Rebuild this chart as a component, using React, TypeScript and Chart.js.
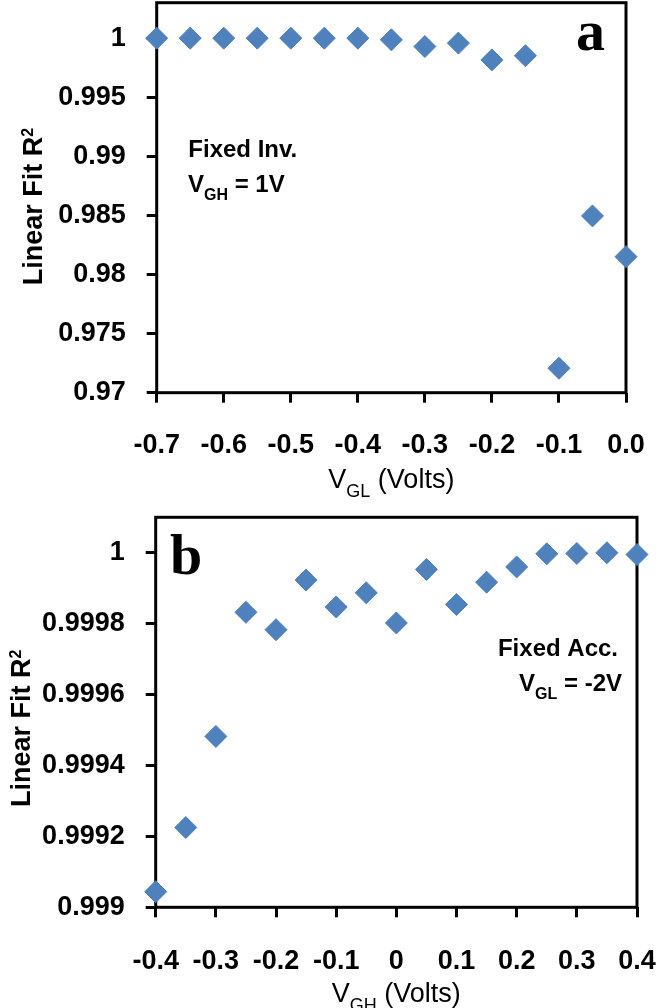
import { useEffect, useRef } from "react";
import { Chart, registerables } from "chart.js";

Chart.register(...registerables);

// Panel a: fixed inversion (V_GH = 1 V), sweep of V_GL
const VGL_A = [-0.7, -0.65, -0.6, -0.55, -0.5, -0.45, -0.4, -0.35, -0.3, -0.25, -0.2, -0.15, -0.1, -0.05, 0];
const R2_A = [1, 1, 1, 1, 1, 1, 1, 0.99986, 0.99929, 0.99958, 0.99816, 0.99851, 0.97207, 0.98496, 0.98151];
const X_TICKS_A = [-0.7, -0.6, -0.5, -0.4, -0.3, -0.2, -0.1, 0];
const X_LABELS_A = ["-0.7", "-0.6", "-0.5", "-0.4", "-0.3", "-0.2", "-0.1", "0.0"];
const Y_TICKS_A = [0.97, 0.975, 0.98, 0.985, 0.99, 0.995, 1];
const Y_LABELS_A = ["0.97", "0.975", "0.98", "0.985", "0.99", "0.995", "1"];

// Panel b: fixed accumulation (V_GL = -2 V), sweep of V_GH
const VGH_B = [-0.4, -0.35, -0.3, -0.25, -0.2, -0.15, -0.1, -0.05, 0, 0.05, 0.1, 0.15, 0.2, 0.25, 0.3, 0.35, 0.4];
const R2_B = [
  0.999044, 0.999225, 0.999482, 0.999832, 0.999783, 0.999923, 0.999847, 0.999887, 0.999802,
  0.999953, 0.999854, 0.999917, 0.99996, 0.999997, 0.999998, 1.0, 0.999995,
];
const X_TICKS_B = [-0.4, -0.3, -0.2, -0.1, 0, 0.1, 0.2, 0.3, 0.4];
const X_LABELS_B = ["-0.4", "-0.3", "-0.2", "-0.1", "0", "0.1", "0.2", "0.3", "0.4"];
const Y_TICKS_B = [0.999, 0.9992, 0.9994, 0.9996, 0.9998, 1];
const Y_LABELS_B = ["0.999", "0.9992", "0.9994", "0.9996", "0.9998", "1"];

const SANS = '"Liberation Sans", Arial, sans-serif';
const SERIF = '"Liberation Serif", "Times New Roman", serif';
const MARKER = "#4F81BD";
const W = 664;
const H = 504;

type Run = { t: string; sub?: boolean; sup?: boolean };

// Draws a line of text made of normal, subscript and superscript runs.
function drawRuns(
  ctx: CanvasRenderingContext2D,
  runs: Run[],
  x: number,
  y: number,
  align: "left" | "center" | "right",
  size: number,
  weight = "bold"
) {
  const main = `${weight} ${size}px ${SANS}`;
  const small = `${weight} ${Math.round(size * 0.68)}px ${SANS}`;
  const sup = `${weight} ${Math.round(size * 0.58)}px ${SANS}`;
  const fontOf = (r: Run) => (r.sub ? small : r.sup ? sup : main);
  let total = 0;
  const widths = runs.map((r) => {
    ctx.font = fontOf(r);
    const w = ctx.measureText(r.t).width;
    total += w;
    return w;
  });
  let cx = align === "left" ? x : align === "center" ? x - total / 2 : x - total;
  ctx.textAlign = "left";
  ctx.textBaseline = "alphabetic";
  ctx.fillStyle = "#000";
  runs.forEach((r, i) => {
    ctx.font = fontOf(r);
    const dy = r.sub ? size * 0.34 : r.sup ? -size * 0.32 : 0;
    ctx.fillText(r.t, cx, y + dy);
    cx += widths[i];
  });
}

type PanelSpec = {
  xs: number[];
  ys: number[];
  xTicks: number[];
  xLabels: string[];
  yTicks: number[];
  yLabels: string[];
  xMin: number;
  xMax: number;
  yMin: number;
  yMax: number;
  area: { left: number; right: number; top: number; bottom: number };
  xLabelPad: number;
  yTitleX: number;
  yTitleShift: number;
  xTitle: Run[];
  letter: { t: string; dx: number; dy: number; fromRight: boolean };
  notes: { runs: Run[]; dx: number; dy: number; fromRight: boolean }[];
};

function Panel({ spec, top }: { spec: PanelSpec; top: number }) {
  const ref = useRef<HTMLCanvasElement | null>(null);

  useEffect(() => {
    const canvas = ref.current;
    if (!canvas) return;
    const a = spec.area;

    const decor = {
      id: "panelDecor",
      beforeDatasetsDraw(chart: Chart) {
        const { ctx, chartArea: c } = chart;
        ctx.save();
        ctx.strokeStyle = "#000";
        ctx.lineWidth = 3;
        ctx.strokeRect(c.left, c.top, c.right - c.left, c.bottom - c.top);
        ctx.restore();
      },
      afterDraw(chart: Chart) {
        const { ctx, chartArea: c } = chart;
        ctx.save();
        // x-axis title
        drawRuns(ctx, spec.xTitle, (c.left + c.right) / 2, c.bottom + 95, "center", 27, "normal");
        // y-axis title, rotated
        ctx.save();
        ctx.translate(spec.yTitleX, (c.top + c.bottom) / 2 + spec.yTitleShift);
        ctx.rotate(-Math.PI / 2);
        drawRuns(ctx, [{ t: "Linear Fit R" }, { t: "2", sup: true }], 0, 0, "center", 27);
        ctx.restore();
        // panel letter
        const L = spec.letter;
        ctx.font = `bold 58px ${SERIF}`;
        ctx.fillStyle = "#000";
        ctx.textBaseline = "alphabetic";
        ctx.textAlign = L.fromRight ? "right" : "left";
        ctx.fillText(L.t, L.fromRight ? c.right - L.dx : c.left + L.dx, c.top + L.dy);
        // condition notes
        spec.notes.forEach((n) => {
          drawRuns(
            ctx,
            n.runs,
            n.fromRight ? c.right - n.dx : c.left + n.dx,
            c.top + n.dy,
            n.fromRight ? "right" : "left",
            24
          );
        });
        ctx.restore();
      },
    };

    const noEdgePadding = (s: any) => {
      s.paddingTop = 0;
      s.paddingBottom = 0;
      s.paddingLeft = 0;
      s.paddingRight = 0;
    };

    const chart = new Chart(canvas, {
      type: "scatter",
      data: {
        datasets: [
          {
            data: spec.xs.map((x, i) => ({ x, y: spec.ys[i] })),
            pointStyle: "rectRot",
            pointRadius: 11,
            pointHoverRadius: 11,
            backgroundColor: MARKER,
            borderColor: MARKER,
            borderWidth: 1,
            clip: false,
          },
        ],
      },
      options: {
        responsive: false,
        animation: false,
        events: [],
        layout: {
          autoPadding: false,
          padding: { top: a.top, right: W - a.right, left: 0, bottom: 0 },
        },
        plugins: { legend: { display: false }, tooltip: { enabled: false } },
        scales: {
          x: {
            type: "linear",
            min: spec.xMin,
            max: spec.xMax,
            afterBuildTicks: (s: any) => {
              s.ticks = spec.xTicks.map((v) => ({ value: v }));
            },
            afterFit: (s: any) => {
              s.height = H - a.bottom;
              noEdgePadding(s);
            },
            border: { display: false },
            grid: {
              drawOnChartArea: false,
              drawTicks: true,
              tickLength: 10,
              color: "#000",
              lineWidth: 3,
            },
            ticks: {
              autoSkip: false,
              maxRotation: 0,
              minRotation: 0,
              padding: spec.xLabelPad,
              color: "#000",
              font: { family: SANS, size: 27, weight: "bold" },
              callback: (_v: any, i: number) => spec.xLabels[i],
            },
          },
          y: {
            type: "linear",
            min: spec.yMin,
            max: spec.yMax,
            afterBuildTicks: (s: any) => {
              s.ticks = spec.yTicks.map((v) => ({ value: v }));
            },
            afterFit: (s: any) => {
              s.width = a.left;
              noEdgePadding(s);
            },
            border: { display: false },
            grid: {
              drawOnChartArea: false,
              drawTicks: true,
              tickLength: 10,
              color: "#000",
              lineWidth: 3,
            },
            ticks: {
              autoSkip: false,
              padding: 21,
              color: "#000",
              font: { family: SANS, size: 27, weight: "bold" },
              callback: (_v: any, i: number) => spec.yLabels[i],
            },
          },
        },
      },
      plugins: [decor],
    } as any);

    return () => chart.destroy();
  }, [spec]);

  return (
    <canvas
      ref={ref}
      width={W}
      height={H}
      style={{ position: "absolute", left: 0, top, width: W, height: H }}
    />
  );
}

const PANEL_A: PanelSpec = {
  xs: VGL_A,
  ys: R2_A,
  xTicks: X_TICKS_A,
  xLabels: X_LABELS_A,
  yTicks: Y_TICKS_A,
  yLabels: Y_LABELS_A,
  xMin: -0.7,
  xMax: 0,
  yMin: 0.97,
  yMax: 1.003,
  area: { left: 156.7, right: 626, top: 2.7, bottom: 392.7 },
  xLabelPad: 27,
  yTitleX: 41.7,
  yTitleShift: 8.8,
  xTitle: [{ t: "V" }, { t: "GL", sub: true }, { t: " (Volts)" }],
  letter: { t: "a", dx: 21, dy: 47, fromRight: true },
  notes: [
    { runs: [{ t: "Fixed Inv." }], dx: 31.6, dy: 154, fromRight: false },
    { runs: [{ t: "V" }, { t: "GH", sub: true }, { t: " = 1V" }], dx: 31.3, dy: 189, fromRight: false },
  ],
};

const PANEL_B: PanelSpec = {
  xs: VGH_B,
  ys: R2_B,
  xTicks: X_TICKS_B,
  xLabels: X_LABELS_B,
  yTicks: Y_TICKS_B,
  yLabels: Y_LABELS_B,
  xMin: -0.4,
  xMax: 0.4,
  yMin: 0.999,
  yMax: 1.0001,
  area: { left: 155.7, right: 637, top: 13.3, bottom: 403.3 },
  xLabelPad: 28,
  yTitleX: 30,
  yTitleShift: 16,
  xTitle: [{ t: "V" }, { t: "GH", sub: true }, { t: " (Volts)" }],
  letter: { t: "b", dx: 14.3, dy: 56.7, fromRight: false },
  notes: [
    { runs: [{ t: "Fixed Acc." }], dx: 19, dy: 138.2, fromRight: true },
    { runs: [{ t: "V" }, { t: "GL", sub: true }, { t: " = -2V" }], dx: 15, dy: 173.2, fromRight: true },
  ],
};

export default function App() {
  return (
    <div style={{ position: "absolute", left: 0, top: 0, width: W, height: 1008, background: "#fff" }}>
      <Panel spec={PANEL_A} top={0} />
      <Panel spec={PANEL_B} top={504} />
    </div>
  );
}
